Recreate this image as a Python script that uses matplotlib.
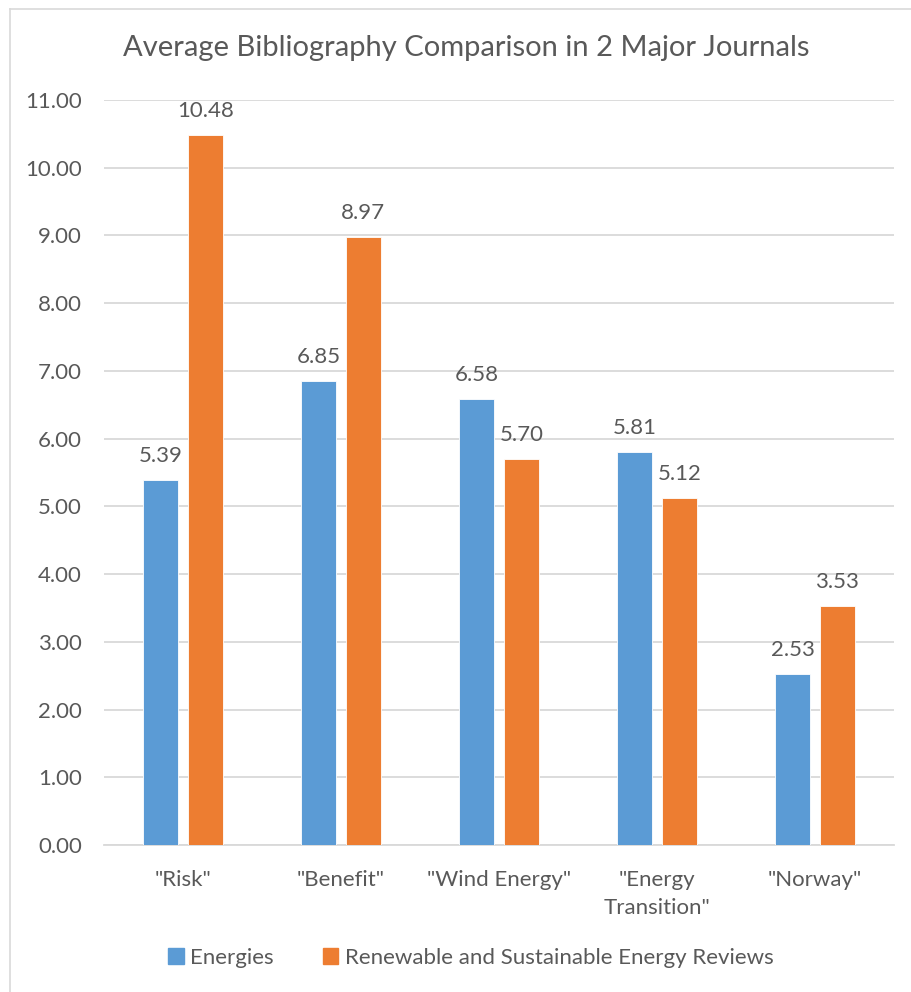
import matplotlib.pyplot as plt
import numpy as np
from matplotlib.lines import Line2D
from matplotlib.patches import Patch

plt.rcParams['font.family'] = ['Lato', 'DejaVu Sans']

categories = ['"Risk"', '"Benefit"', '"Wind Energy"', '"Energy\nTransition"', '"Norway"']
energies = [5.39, 6.85, 6.58, 5.81, 2.53]
rser = [10.48, 8.97, 5.70, 5.12, 3.53]
series_names = ['Energies', 'Renewable and Sustainable Energy Reviews']
yticks = np.arange(0, 12, 1)

blue = '#5B9BD5'
orange = '#ED7D31'
grey_text = '#595959'
grid_col = '#D9D9D9'

W, H = 911, 992
fig = plt.figure(figsize=(W / 100, H / 100), dpi=100)

# chart area border (cropped on the right and bottom)
fig.add_artist(Line2D([9.5 / W, 9.5 / W], [0, 1 - 8.5 / H], color=grid_col, lw=1.2))
fig.add_artist(Line2D([9.5 / W, 1], [1 - 8.5 / H, 1 - 8.5 / H], color=grid_col, lw=1.2))

ax = fig.add_axes([104 / W, 1 - 845 / H, (894 - 104) / W, (845 - 100) / H])

x = np.arange(len(categories))
bw = 0.225
off = 0.142
b1 = ax.bar(x - off, energies, bw, color=blue, edgecolor='white', linewidth=0.6, zorder=3)
b2 = ax.bar(x + off, rser, bw, color=orange, edgecolor='white', linewidth=0.6, zorder=3)

fs = 16
for bars, vals in [(b1, energies), (b2, rser)]:
    for b, v in zip(bars, vals):
        ax.annotate(f'{v:.2f}', (b.get_x() + b.get_width() / 2, v),
                    xytext=(0, 14), textcoords='offset pixels',
                    ha='center', va='bottom', fontsize=fs, color=grey_text)

ax.set_xlim(-0.5, len(categories) - 0.5)
ax.set_ylim(0, 11)
ax.set_yticks(yticks)
ax.set_yticklabels([f'{t:.2f}' for t in yticks])
ax.yaxis.grid(True, color=grid_col, lw=1.3, zorder=0)
ax.set_xticks(x)
ax.set_xticklabels(categories, linespacing=1.5)
ax.tick_params(axis='both', length=0, labelsize=fs, labelcolor=grey_text)
ax.tick_params(axis='y', pad=16)
ax.tick_params(axis='x', pad=18)
for s in ['top', 'right', 'left']:
    ax.spines[s].set_visible(False)
ax.spines['bottom'].set_color(grid_col)
ax.spines['bottom'].set_linewidth(1.3)

fig.text(466 / W, 1 - 48 / H, 'Average Bibliography Comparison in 2 Major Journals',
         ha='center', va='center', fontsize=21, color=grey_text)

handles = [Patch(color=blue), Patch(color=orange)]
fig.legend(handles, series_names, loc='center', bbox_to_anchor=(471 / W, 1 - 958 / H),
           ncol=2, frameon=False, fontsize=fs, labelcolor=grey_text,
           handlelength=0.7, handleheight=0.7, handletextpad=0.3, columnspacing=2.2)

fig.savefig('out.png', dpi=100)
